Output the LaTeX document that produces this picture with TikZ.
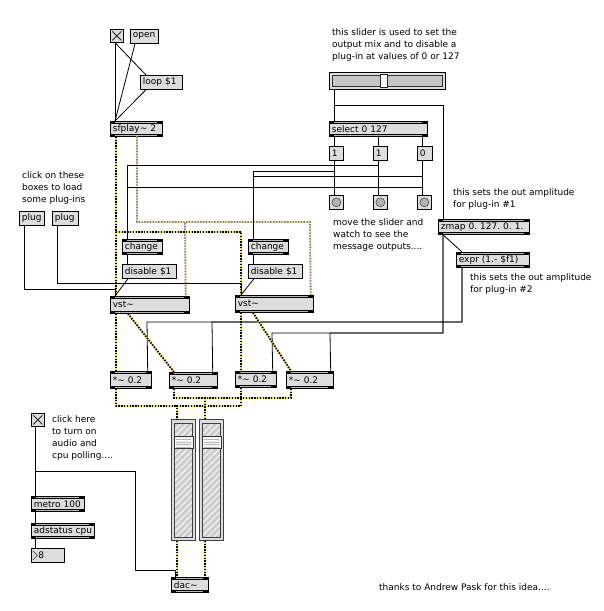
\documentclass[tikz,border=0pt]{standalone}
\usepackage{fontspec}
\newfontfamily\maxfont{DejaVu Sans}
\usetikzlibrary{patterns.meta}
\definecolor{boxgray}{RGB}{221,221,221}
\definecolor{sigyellow}{RGB}{240,228,90}
\definecolor{sigmauve}{RGB}{135,125,160}
\begin{document}
\begin{tikzpicture}[
		x=1pt, y=-1pt,
		every node/.style={font=\maxfont\fontsize{9}{12}\selectfont\frenchspacing},
		obj/.style={
			draw, fill=boxgray, line width=0.7pt,
			anchor=north west, text width=#1, align=left,
			minimum height=15pt, inner xsep=2.5pt, inner ysep=0pt,
			execute at begin node={\hbox\bgroup}, execute at end node={\egroup},
			path picture={
				\fill[black] (path picture bounding box.north west) rectangle ([yshift=-2.6pt]path picture bounding box.north east);
				\fill[black] (path picture bounding box.south west) rectangle ([yshift=2.6pt]path picture bounding box.south east);
				\draw[gray!55, line width=0.6pt] ([xshift=5pt,yshift=-1.3pt]path picture bounding box.north west) -- ([xshift=-5pt,yshift=-1.3pt]path picture bounding box.north east);
				\draw[gray!55, line width=0.6pt] ([xshift=5pt,yshift=1.3pt]path picture bounding box.south west) -- ([xshift=-5pt,yshift=1.3pt]path picture bounding box.south east);
			}
		},
		msg/.style={
			draw, fill=boxgray, line width=0.7pt,
			anchor=north west, text width=#1, align=left,
			minimum height=14pt, inner xsep=2.5pt, inner ysep=0pt,
			execute at begin node={\hbox\bgroup}, execute at end node={\egroup}
		},
		cmt/.style={anchor=north west, inner sep=0pt, align=left},
		tgl/.style={
			draw, fill=boxgray, line width=0.7pt, anchor=north west,
			minimum size=13pt, inner sep=0pt,
			path picture={
				\draw[gray!30!black, line width=0.8pt]
					([shift={(2pt,2pt)}]path picture bounding box.south west) -- ([shift={(-2pt,-2pt)}]path picture bounding box.north east)
					([shift={(2pt,-2pt)}]path picture bounding box.north west) -- ([shift={(-2pt,2pt)}]path picture bounding box.south east);
			}
		},
		bng/.style={
			draw, fill=boxgray, line width=0.7pt, anchor=north west,
			minimum size=14pt, inner sep=0pt,
			path picture={
				\fill[gray!60, draw=gray!30!black, line width=0.4pt] (path picture bounding box.center) circle (4.5pt);
			}
		},
		hsl/.style={
			draw, fill=boxgray, line width=0.7pt, anchor=north west,
			minimum width=116pt, minimum height=17pt, inner sep=0pt,
			path picture={
				\fill[gray!45, draw=gray!40!black, line width=0.5pt] ([shift={(3pt,-3pt)}]path picture bounding box.north west) rectangle ([shift={(-3pt,3pt)}]path picture bounding box.south east);
				\fill[gray!5, draw=gray!30!black, line width=0.5pt] ([shift={(51pt,-2pt)}]path picture bounding box.north west) rectangle ([shift={(58pt,-15pt)}]path picture bounding box.north west);
			}
		},
		gsl/.style={
			draw=gray!50!black, fill=boxgray, line width=0.7pt, anchor=north west,
			minimum width=24pt, minimum height=121pt, inner sep=0pt,
			path picture={
				\fill[gray!40] ([shift={(3pt,-4pt)}]path picture bounding box.north west) rectangle ([shift={(-3pt,3pt)}]path picture bounding box.south east);
				\fill[pattern={Lines[angle=45,distance=4.5pt,line width=1.5pt]}, pattern color=gray!12] ([shift={(3pt,-4pt)}]path picture bounding box.north west) rectangle ([shift={(-3pt,3pt)}]path picture bounding box.south east);
				\draw[gray!50!black, line width=0.5pt] ([shift={(3pt,-4pt)}]path picture bounding box.north west) rectangle ([shift={(-3pt,3pt)}]path picture bounding box.south east);
				\fill[gray!8, draw=gray!40!black, line width=0.5pt] ([shift={(3pt,-17pt)}]path picture bounding box.north west) rectangle ([shift={(-2pt,-29pt)}]path picture bounding box.north east);
				\foreach \k in {20,22.5,25,27.5}
					\draw[gray!55, line width=0.5pt] ([shift={(5pt,-\k pt)}]path picture bounding box.north west) -- ([shift={(-4pt,-\k pt)}]path picture bounding box.north east);
			}
		},
		numbox/.style={
			draw, fill=boxgray, line width=0.7pt, anchor=north west,
			text width=26pt, align=left, minimum height=14pt,
			inner xsep=3.5pt, inner ysep=0pt,
			path picture={
				\draw[gray!40!black, line width=0.6pt] ([shift={(1.5pt,-2.5pt)}]path picture bounding box.north west) -- ([shift={(6pt,-7pt)}]path picture bounding box.north west) -- ([shift={(1.5pt,-11.5pt)}]path picture bounding box.north west);
			}
		},
		cord/.style={line width=0.8pt},
		sig/.style={line width=1.8pt, draw=black, dash pattern=on 1.4pt off 1.4pt,
			preaction={draw=sigyellow, solid, line width=1.8pt}},
		sigb/.style={line width=1.8pt, draw=sigmauve, dash pattern=on 1.4pt off 1.4pt,
			preaction={draw=sigyellow!70!white, solid, line width=1.8pt}}
	]
	\fill[white] (0,0) rectangle (603,611);
	\useasboundingbox (0,0) rectangle (603,611);

	\node[tgl] (tgla) at (110,29) {};
	\node[msg=23pt] (openmsg) at (130,29) {open};
	\node[msg=37pt] (loopmsg) at (140,75) {loop \$1};
	\node[obj=47pt] (sfplay) at (110,121) {sfplay\textasciitilde{} 2};

	\node[cmt] (cmtplug) at (22,171) {click on these\\boxes to load\\some plug-ins};
	\node[msg=20pt] (pluga) at (19,211) {plug};
	\node[msg=21pt] (plugb) at (52,211) {plug};

	\node[obj=35pt] (changea) at (122,239) {change};
	\node[msg=49pt] (disablea) at (122,264) {disable \$1};
	\node[obj=35pt] (changeb) at (248,239) {change};
	\node[msg=49pt] (disableb) at (248,264) {disable \$1};
	\node[obj=74pt, minimum height=17pt] (vsta) at (110,296) {vst\textasciitilde};
	\node[obj=73pt, minimum height=17pt] (vstb) at (235,295) {vst\textasciitilde};

	\node[cmt] (cmtslider) at (332,28) {this slider is used to set the\\output mix and to disable a\\plug-in at values of 0 or 127};
	\node[hsl] (mixslider) at (329,72) {};
	\node[obj=93pt] (selectnums) at (329,121) {select 0 127};
	\node[msg=9pt] (onea) at (329,146) {1};
	\node[msg=9pt] (oneb) at (373,146) {1};
	\node[msg=10pt] (zero) at (417,146) {0};
	\node[bng] (bnga) at (329,195) {};
	\node[bng] (bngb) at (373,195) {};
	\node[bng] (bngc) at (417,195) {};
	\node[cmt] (cmtmove) at (333,218) {move the slider and\\watch to see the\\message outputs....};

	\node[cmt] (cmtampa) at (453,188) {this sets the out amplitude\\for plug-in \#1};
	\node[obj=86pt] (zmap) at (438,219) {zmap 0. 127. 0. 1.};
	\node[obj=68pt] (expr) at (456,252) {expr (1.- \$f1)};
	\node[cmt] (cmtampb) at (470,273) {this sets the out amplitude\\for plug-in \#2};

	\node[obj=36pt, minimum height=17pt] (multa) at (110,371) {*\textasciitilde{} 0.2};
	\node[obj=43pt, minimum height=16pt] (multb) at (169,372) {*\textasciitilde{} 0.2};
	\node[obj=36pt, minimum height=16pt] (multc) at (235,371) {*\textasciitilde{} 0.2};
	\node[obj=42pt, minimum height=17pt] (multd) at (286,371) {*\textasciitilde{} 0.2};

	\node[tgl] (tglb) at (31,413) {};
	\node[cmt] (cmtaudio) at (52,415) {click here\\to turn on\\audio and\\cpu polling....};
	\node[obj=48pt] (metro) at (31,496) {metro 100};
	\node[obj=58pt] (adstatus) at (31,523) {adstatus cpu};
	\node[numbox] (cpunum) at (31,548) {\hspace*{3.5pt}8};
	\node[gsl] (gaina) at (171,419) {};
	\node[gsl] (gainb) at (199,419) {};
	\node[obj=32pt] (dac) at (171,577) {dac\textasciitilde};
	\node[cmt] (cmtthanks) at (379,583) {thanks to Andrew Pask for this idea....};

	\draw[cord] ([xshift=5pt]tgla.south west) -- ([xshift=5pt]sfplay.north west);
	\draw[cord] ([xshift=5pt]tgla.south west) -- ([xshift=6pt]loopmsg.north west);
	\draw[cord] ([xshift=5pt]openmsg.south west) -- ([xshift=5pt]sfplay.north west);
	\draw[cord] ([xshift=6pt]loopmsg.south west) -- ([xshift=5pt]sfplay.north west);

	\draw[sigb] ([xshift=27pt]sfplay.south west) |- (185,222) -- ([xshift=-4pt]vsta.north east);
	\draw[sigb] ([xshift=27pt]sfplay.south west) |- (310,222) -- ([xshift=-3pt]vstb.north east);
	\draw[sig] ([xshift=6pt]sfplay.south west) -- ([xshift=6pt]vsta.north west);
	\draw[sig] ([xshift=6pt]sfplay.south west) |- (241,232) -- ([xshift=6pt]vstb.north west);

	\draw[cord] ([xshift=5pt]pluga.south west) |- (115,289) -- ([xshift=5pt]vsta.north west);
	\draw[cord] ([xshift=5pt]plugb.south west) |- (241,283) -- ([xshift=6pt]vstb.north west);
	\draw[cord] ([xshift=5pt]changea.south west) -- ([xshift=5pt]disablea.north west);
	\draw[cord] ([xshift=6pt]disablea.south west) -- ([xshift=5pt]vsta.north west);
	\draw[cord] ([xshift=5pt]changeb.south west) -- ([xshift=5pt]disableb.north west);
	\draw[cord] ([xshift=6pt]disableb.south west) -- ([xshift=6pt]vstb.north west);

	\draw[cord] ([xshift=5pt]mixslider.south west) -- ([xshift=5pt]selectnums.north west);
	\draw[cord] ([xshift=5pt]mixslider.south west) |- (443,105) -- ([xshift=5pt]zmap.north west);
	\foreach \s/\m/\b in {5/onea/bnga, 49/oneb/bngb, 93/zero/bngc} {
		\draw[cord] ([xshift=\s pt]selectnums.south west) -- ([xshift=5pt]\m.north west);
		\draw[cord] ([xshift=5pt]\m.south west) -- ([xshift=5pt]\b.north west);
	}
	\draw[cord] ([xshift=5pt]oneb.south west) |- (127,165) -- ([xshift=5pt]changea.north west);
	\draw[cord] ([xshift=5pt]onea.south west) |- (253,171) -- ([xshift=5pt]changeb.north west);
	\draw[cord] ([xshift=5pt]zero.south west) |- (253,176) -- ([xshift=5pt]changeb.north west);
	\draw[cord] ([xshift=5pt]zero.south west) |- (127,187) -- ([xshift=5pt]changea.north west);

	\draw[cord] ([xshift=5pt]zmap.south west) -- ([xshift=6pt]expr.north west);
	\draw[cord] ([xshift=5pt]zmap.south west) |- (272,333) -- ([xshift=-4pt]multc.north east);
	\draw[cord] ([xshift=5pt]zmap.south west) |- (330,333) -- ([xshift=-3pt]multd.north east);
	\draw[cord] ([xshift=6pt]expr.south west) |- (147,322) -- ([xshift=-4pt]multa.north east);
	\draw[cord] ([xshift=6pt]expr.south west) |- (212,322) -- ([xshift=-5pt]multb.north east);

	\draw[sig] ([xshift=6pt]vsta.south west) -- ([xshift=6pt]multa.north west);
	\draw[sig] ([xshift=18pt]vsta.south west) -- ([xshift=5pt]multb.north west);
	\draw[sig] ([xshift=6pt]vstb.south west) -- ([xshift=6pt]multc.north west);
	\draw[sig] ([xshift=18pt]vstb.south west) -- ([xshift=5pt]multd.north west);

	\draw[sig] ([xshift=6pt]multa.south west) |- (177,406) -- ([xshift=6pt]gaina.north west);
	\draw[sig] ([xshift=6pt]multc.south west) |- (177,406) -- ([xshift=6pt]gaina.north west);
	\draw[sig] ([xshift=5pt]multb.south west) |- (205,398) -- ([xshift=6pt]gainb.north west);
	\draw[sig] ([xshift=5pt]multd.south west) |- (205,398) -- ([xshift=6pt]gainb.north west);
	\draw[sig] ([xshift=6pt]gaina.south west) -- ([xshift=6pt]dac.north west);
	\draw[sig] ([xshift=6pt]gainb.south west) -- ([xshift=34pt]dac.north west);

	\draw[cord] ([xshift=4.5pt]tglb.south west) -- ([xshift=4.5pt]metro.north west);
	\draw[cord] ([xshift=4.5pt]tglb.south west) |- (135,471) |- (175,570) -- ([xshift=4pt]dac.north west);
	\draw[cord] ([xshift=4.5pt]metro.south west) -- ([xshift=4.5pt]adstatus.north west);
	\draw[cord] ([xshift=4.5pt]adstatus.south west) -- ([xshift=4.5pt]cpunum.north west);
\end{tikzpicture}
\end{document}
